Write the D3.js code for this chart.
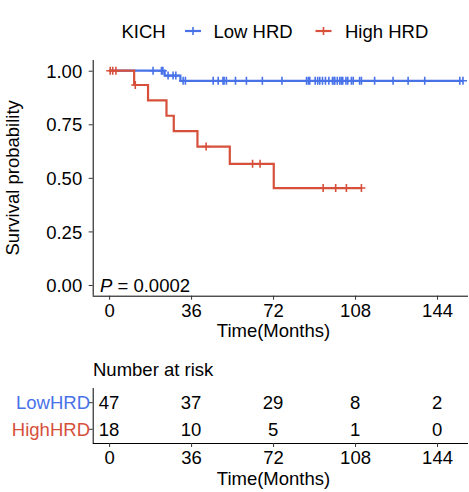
<!DOCTYPE html>
<html>
<head>
<meta charset="utf-8">
<script src="https://cdn.jsdelivr.net/npm/d3@7/dist/d3.min.js"></script>
<style>
  html, body { margin: 0; padding: 0; background: #fff; }
  svg { display: block; font-family: "Liberation Sans", Arial, sans-serif; }
</style>
</head>
<body>
<svg id="chart" width="469" height="492"></svg>
<script>
// ---- data ----
const title = "KICH";
const groups = ["Low HRD", "High HRD"];
const riskLabels = ["LowHRD", "HighHRD"];
const colors = ["#4872e8", "#d6503b"];
// Low HRD: follow-up times (months) and status (1 = event, 0 = censored)
const lowTimes = [24.4, 31.3,
  19.3, 23.0, 23.6, 25.9, 28.1, 29.3, 32.5, 33.5,
  45.7, 47.9, 50.0, 50.5, 51.5, 55.5, 60.3, 67.3,
  75.9, 86.7, 87.5, 88.1, 90.5, 91.6, 92.5, 93.7, 95.0, 96.5, 98.1, 98.8, 99.1, 100.2, 101.3, 102.0, 102.6, 104.0, 104.8, 106.4, 107.2,
  110.0, 110.8, 116.6, 124.7, 131.3, 138.6,
  154.0, 155.4];
const lowStatus = [1, 1,
  0, 0, 0, 0, 0, 0, 0, 0,
  0, 0, 0, 0, 0, 0, 0, 0,
  0, 0, 0, 0, 0, 0, 0, 0, 0, 0, 0, 0, 0, 0, 0, 0, 0, 0, 0, 0, 0,
  0, 0, 0, 0, 0, 0,
  0, 0];
// High HRD
const highTimes = [11.0, 17.1, 25.2, 28.4, 38.8, 53.0, 72.3,
  0.5, 1.6, 3.0, 11.5, 42.6, 63.0, 66.3, 94.0, 99.5, 104.2, 110.8];
const highStatus = [1, 1, 1, 1, 1, 1, 1,
  0, 0, 0, 0, 0, 0, 0, 0, 0, 0, 0];
const xTicks = [0, 36, 72, 108, 144];
const yTicks = [0, 0.25, 0.5, 0.75, 1];
const pText = "0.0002";

// ---- KM ----
function km(times, status) {
  const d = times.map((t, i) => ({t, e: status[i]})).sort((a, b) => a.t - b.t || b.e - a.e);
  let n = d.length, s = 1;
  const steps = [{t: 0, s: 1}], cens = [];
  let i = 0;
  while (i < d.length) {
    const t = d[i].t;
    let ev = 0, c = 0;
    while (i < d.length && d[i].t === t) { if (d[i].e) ev++; else c++; i++; }
    if (ev > 0) { s = s * (n - ev) / n; steps.push({t, s}); }
    if (c > 0) for (let k = 0; k < c; k++) cens.push({t, s});
    n -= ev + c;
  }
  return {steps, cens, end: d[d.length - 1].t, times};
}
const fits = [km(lowTimes, lowStatus), km(highTimes, highStatus)];

// ---- layout ----
const svg = d3.select("#chart");
const x = d3.scaleLinear().domain([-7.2, 157.6]).range([92.7, 468]);
const y = d3.scaleLinear().domain([-0.05, 1.05]).range([295.7, 60]);
const fs = 18.5;
const txt = "#000";
const ff = "Liberation Sans, Arial, sans-serif";

// legend
svg.append("text").attr("x", 121.5).attr("y", 37.5).attr("font-size", fs).attr("fill", txt).text(title);
const legX = [[185, 213.5], [315.5, 345]];
groups.forEach((g, i) => {
  const [kx, tx] = legX[i];
  const lg = svg.append("g");
  lg.append("line").attr("x1", kx).attr("x2", kx + 16).attr("y1", 31).attr("y2", 31)
    .attr("stroke", colors[i]).attr("stroke-width", 2.2);
  lg.append("path").attr("d", `M${kx + 8 - 4},31H${kx + 8 + 4}M${kx + 8},27V35`)
    .attr("stroke", colors[i]).attr("stroke-width", 1.6);
  lg.append("text").attr("x", tx).attr("y", 37.5).attr("font-size", fs).attr("fill", txt).text(g);
});

// axes for main panel
const xAxis = svg.append("g").attr("transform", `translate(0,${y.range()[0]})`)
  .call(d3.axisBottom(x).tickValues(xTicks).tickSize(4).tickPadding(3).tickFormat(d3.format("d")));
const yAxis = svg.append("g").attr("transform", `translate(${x.range()[0]},0)`)
  .call(d3.axisLeft(y).tickValues(yTicks).tickSize(4).tickPadding(3).tickFormat(d3.format(".2f")));
[xAxis, yAxis].forEach(a => {
  a.select(".domain").attr("stroke", "#000").attr("stroke-width", 1);
  a.selectAll(".tick line").attr("stroke", "#333").attr("stroke-width", 1);
  a.selectAll(".tick text").attr("font-size", fs).attr("fill", txt).attr("font-family", ff);
});
yAxis.select(".domain").attr("d", `M0.5,${y.range()[0]}V${y.range()[1]}`);
xAxis.select(".domain").attr("d", `M${x.range()[0]},0.5H${x.range()[1]}`);
xAxis.selectAll(".tick text").attr("dy", null).attr("y", 21.5);
yAxis.selectAll(".tick text").attr("x", -10.5).attr("dy", "0.36em");

svg.append("text").attr("x", 273.5).attr("y", 337).attr("text-anchor", "middle")
  .attr("font-size", fs).attr("fill", txt).text("Time(Months)");
svg.append("text").attr("transform", `translate(19,${(y.range()[0] + y.range()[1]) / 2}) rotate(-90)`)
  .attr("text-anchor", "middle").attr("font-size", fs).attr("fill", txt).text("Survival probability");

// curves
fits.forEach((f, i) => {
  let dstr = `M${x(0)},${y(1)}`;
  f.steps.slice(1).forEach(p => { dstr += `H${x(p.t)}V${y(p.s)}`; });
  dstr += `H${x(f.end)}`;
  svg.append("path").attr("d", dstr).attr("fill", "none").attr("stroke", colors[i])
    .attr("stroke-width", 2.2).attr("stroke-linejoin", "miter");
  svg.append("g").selectAll("path").data(f.cens).join("path")
    .attr("d", c => `M${x(c.t) - 4},${y(c.s)}H${x(c.t) + 4}M${x(c.t)},${y(c.s) - 4}V${y(c.s) + 4}`)
    .attr("stroke", colors[i]).attr("stroke-width", 1.6).attr("fill", "none");
});

// p value
const pt = svg.append("text").attr("x", 100).attr("y", 292).attr("font-size", fs).attr("fill", txt);
pt.append("tspan").attr("font-style", "italic").text("P");
pt.append("tspan").text(" = " + pText);

// ---- risk table ----
svg.append("text").attr("x", 93).attr("y", 376).attr("font-size", fs).attr("fill", txt).text("Number at risk");
const ry = d3.scalePoint().domain(riskLabels).range([402.7, 429.3]);
const tAxis = svg.append("g").attr("transform", `translate(0,443)`)
  .call(d3.axisBottom(x).tickValues(xTicks).tickSize(4).tickPadding(3).tickFormat(d3.format("d")));
tAxis.select(".domain").attr("stroke", "#000").attr("d", `M${x.range()[0]},0.5H${x.range()[1]}`);
tAxis.selectAll(".tick line").attr("stroke", "#333");
tAxis.selectAll(".tick text").attr("font-size", fs).attr("fill", txt).attr("dy", null).attr("y", 20.5)
  .attr("font-family", ff);
svg.append("line").attr("x1", x.range()[0] + 0.5).attr("x2", x.range()[0] + 0.5).attr("y1", 388).attr("y2", 443)
  .attr("stroke", "#000");
riskLabels.forEach((lab, i) => {
  svg.append("line").attr("x1", x.range()[0] - 4).attr("x2", x.range()[0]).attr("y1", ry(lab)).attr("y2", ry(lab)).attr("stroke", "#333");
  svg.append("text").attr("x", 90).attr("y", ry(lab)).attr("dy", "0.36em").attr("text-anchor", "end")
    .attr("font-size", fs).attr("fill", colors[i]).text(lab);
  xTicks.forEach(t => {
    const n = fits[i].times.filter(v => v >= t).length;
    svg.append("text").attr("x", x(t)).attr("y", ry(lab)).attr("dy", "0.36em").attr("text-anchor", "middle")
      .attr("font-size", fs).attr("fill", txt).text(n);
  });
});
svg.append("text").attr("x", 273.5).attr("y", 485).attr("text-anchor", "middle")
  .attr("font-size", fs).attr("fill", txt).text("Time(Months)");
</script>
</body>
</html>
